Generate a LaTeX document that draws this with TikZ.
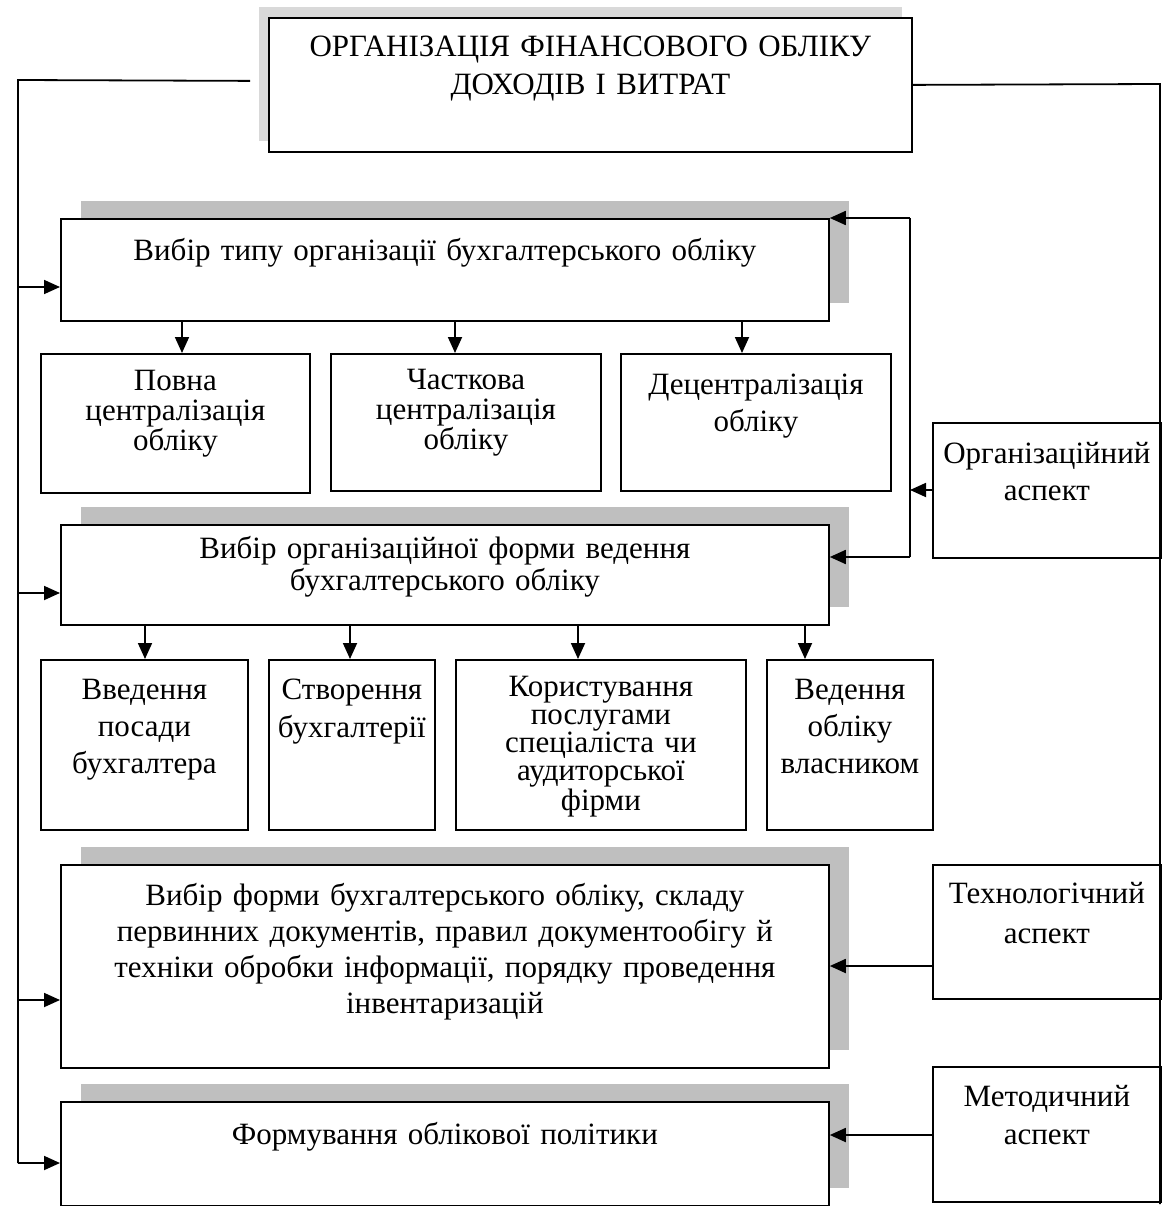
\documentclass[tikz,border=0pt]{standalone}
\usepackage{fontspec}
\setmainfont{Liberation Serif}
\usepackage{tikz}
\usetikzlibrary{positioning, arrows.meta, shadows}

\begin{document}
\begin{tikzpicture}[x=1pt, y=-1pt,
  box/.style={draw, line width=1.8pt, fill=white, anchor=north west, inner sep=0pt,
    align=center, text height=20pt},
  shbox/.style={box, drop shadow={shadow xshift=20pt, shadow yshift=18pt, fill=gray!50, opacity=1}},
  fs/.style={font=\fontsize{31}{#1}\selectfont},
  line/.style={line width=1.8pt},
  arr/.style={line, -{Triangle[length=16pt, width=14pt]}}]
\useasboundingbox (0,0) rectangle (1161,1206);

% Main title
\node[box, fs=38, minimum width=643pt, minimum height=134pt, text width=640pt, text depth=76pt,
  drop shadow={shadow xshift=-10pt, shadow yshift=11pt, fill=gray!30, opacity=1}]
  (title) at (268,17) {ОРГАНІЗАЦІЯ ФІНАНСОВОГО ОБЛІКУ\\ДОХОДІВ І ВИТРАТ};

% Main boxes
\node[shbox, fs=32, minimum width=768pt, minimum height=102pt, text width=760pt, text depth=38pt]
  (type) at (60,218) {Вибір типу організації бухгалтерського обліку};
\node[shbox, fs=32, minimum width=768pt, minimum height=100pt, text width=760pt, text depth=52pt]
  (form) at (60,524) {Вибір організаційної форми ведення\\бухгалтерського обліку};
\node[shbox, fs=36, minimum width=768pt, minimum height=203pt, text width=760pt, text depth=141pt]
  (tech) at (60,864) {Вибір форми бухгалтерського обліку, складу\\первинних документів, правил документообігу й\\техніки обробки інформації, порядку проведення\\інвентаризацій};
\node[shbox, fs=32, minimum width=768pt, minimum height=104pt, text width=760pt, text depth=39pt]
  (policy) at (60,1101) {Формування облікової політики};

% First row
\node[box, fs=30, minimum width=269pt, minimum height=139pt, text width=265pt, text depth=86pt]
  (full) at (40,353) {Повна\\централізація\\обліку};
\node[box, fs=30, minimum width=270pt, minimum height=137pt, text width=265pt, text depth=86pt]
  (part) at (330,353) {Часткова\\централізація\\обліку};
\node[box, fs=37, minimum width=270pt, minimum height=137pt, text width=265pt, text depth=76pt]
  (decen) at (620,353) {Децентралізація\\обліку};

% Second row
\node[box, fs=37, minimum width=207pt, minimum height=170pt, text width=205pt, text depth=110pt]
  (post) at (40,659) {Введення\\посади\\бухгалтера};
\node[box, fs=38, minimum width=166pt, minimum height=170pt, text width=166pt, text depth=110pt]
  (dept) at (268,659) {Створення\\бухгалтерії};
\node[box, fs=28, minimum width=290pt, minimum height=170pt, text width=286pt, text depth=116pt]
  (audit) at (455,659) {Користування\\послугами\\спеціаліста чи\\аудиторської\\фірми};
\node[box, fs=37, minimum width=166pt, minimum height=170pt, text width=166pt, text depth=110pt]
  (owner) at (766,659) {Ведення\\обліку\\власником};

% Aspects
\node[box, fs=37, minimum width=228pt, minimum height=135pt, text width=226pt, text depth=73pt]
  (orgasp) at (932,422) {Організаційний\\аспект};
\node[box, fs=40, minimum width=228pt, minimum height=134pt, text width=226pt, text depth=76pt]
  (techasp) at (932,864) {Технологічний\\аспект};
\node[box, fs=38, minimum width=228pt, minimum height=135pt, text width=226pt, text depth=75pt]
  (methasp) at (932,1066) {Методичний\\аспект};

% Left bus
\coordinate (ltop) at (18,80);
\coordinate (lbot) at (18,1163);
\draw[line] ([xshift=-18pt, yshift=4pt]title.west) -- (ltop) -- (lbot);
\draw[arr] (ltop |- 0,287) -- (type.west |- 0,287);
\draw[arr] (ltop |- 0,593) -- (form.west |- 0,593);
\draw[arr] (ltop |- 0,1000) -- (tech.west |- 0,1000);
\draw[arr] (lbot) -- (policy.west |- lbot);

% Right bus
\coordinate (rtop) at (1160,84);
\draw[line] (title.east) -- (rtop) -- (1160,1204);

% Organisational aspect
\coordinate (otop) at (910,218);
\coordinate (obot) at (910,557);
\draw[line] (otop) -- (obot);
\draw[arr] (otop) -- (type.north east);
\draw[arr] (obot) -- (form.east |- obot);
\draw[arr] (orgasp.west |- 0,490) -- (otop |- 0,490);

% Other aspects
\draw[arr] (techasp.west |- 0,966) -- (tech.east |- 0,966);
\draw[arr] (methasp.west |- 0,1135) -- (policy.east |- 0,1135);

% Downward arrows
\draw[arr] (type.south -| 182,0) -- (full.north -| 182,0);
\draw[arr] (type.south -| 455,0) -- (part.north -| 455,0);
\draw[arr] (type.south -| 742,0) -- (decen.north -| 742,0);
\draw[arr] (form.south -| 145,0) -- (post.north -| 145,0);
\draw[arr] (form.south -| 350,0) -- (dept.north -| 350,0);
\draw[arr] (form.south -| 578,0) -- (audit.north -| 578,0);
\draw[arr] (form.south -| 805,0) -- (owner.north -| 805,0);

\end{tikzpicture}
\end{document}
